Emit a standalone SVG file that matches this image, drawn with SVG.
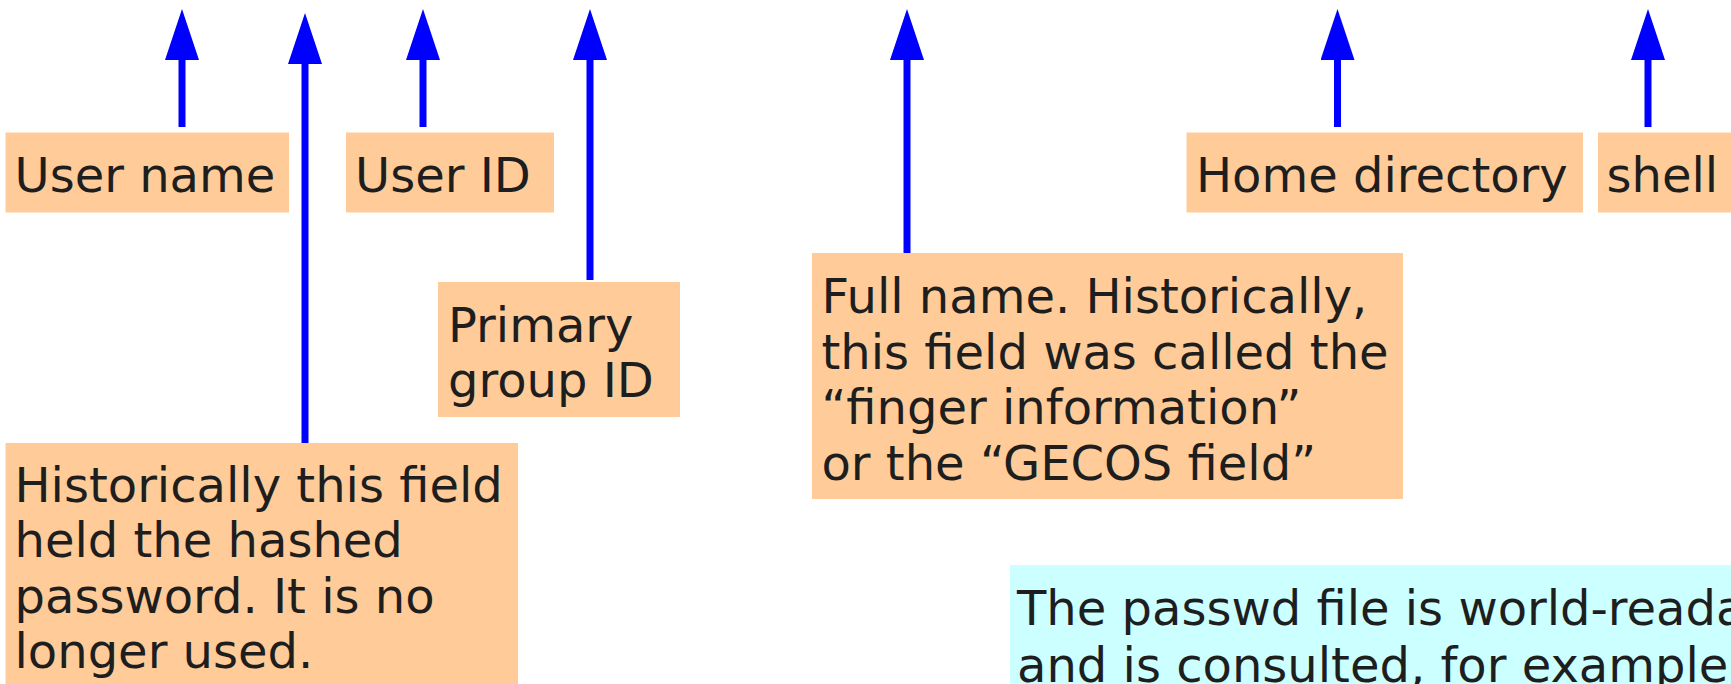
<svg xmlns="http://www.w3.org/2000/svg" width="1731" height="684" viewBox="0 0 1731 684">
<style>
.box{fill:#ffcc99}
.note{fill:#ccffff}
.t{font-family:"DejaVu Sans",sans-serif;font-size:48px;fill:#1e1e1e}
.c{stroke:#0000ff;stroke-width:7;fill:none}
</style>
<defs>
<marker id="ah" markerUnits="userSpaceOnUse" markerWidth="52" markerHeight="34" viewBox="0 0 52 34" refX="0" refY="17" orient="auto">
<path d="M0,0 L51,17 L0,34 z" fill="#0000ff"/>
</marker>
</defs>
<rect width="1731" height="684" fill="#ffffff"/>
<g id="connectors">
<line class="c" x1="182" y1="127" x2="182" y2="60" marker-end="url(#ah)"/>
<line class="c" x1="305" y1="443" x2="305" y2="64" marker-end="url(#ah)"/>
<line class="c" x1="423" y1="127" x2="423" y2="60" marker-end="url(#ah)"/>
<line class="c" x1="590" y1="280" x2="590" y2="60" marker-end="url(#ah)"/>
<line class="c" x1="907" y1="253" x2="907" y2="60" marker-end="url(#ah)"/>
<line class="c" x1="1337.5" y1="127" x2="1337.5" y2="60" marker-end="url(#ah)"/>
<line class="c" x1="1648" y1="127" x2="1648" y2="60" marker-end="url(#ah)"/>
</g>
<g id="userName">
<rect class="box" x="5.5" y="132.5" width="283.5" height="80"/>
<text class="t" x="14.5" y="192">User name</text>
</g>
<g id="userId">
<rect class="box" x="346" y="132.5" width="208" height="80"/>
<text class="t" x="355" y="192">User ID</text>
</g>
<g id="primaryGroup">
<rect class="box" x="438" y="282" width="242" height="135"/>
<text class="t" x="448" y="342">Primary</text>
<text class="t" x="448" y="397">group ID</text>
</g>
<g id="password">
<rect class="box" x="5.5" y="443" width="512.5" height="250"/>
<text class="t" x="14.5" y="502">Historically this field</text>
<text class="t" x="14.5" y="557">held the hashed</text>
<text class="t" x="14.5" y="612.5">password. It is no</text>
<text class="t" x="14.5" y="668">longer used.</text>
</g>
<g id="fullName">
<rect class="box" x="812" y="253" width="591" height="246"/>
<text class="t" x="821.5" y="313">Full name. Historically,</text>
<text class="t" x="821.5" y="368.5">this field was called the</text>
<text class="t" x="821.5" y="424">“finger information”</text>
<text class="t" x="821.5" y="480">or the “GECOS field”</text>
</g>
<g id="homeDirectory">
<rect class="box" x="1186.5" y="132.5" width="396.5" height="80"/>
<text class="t" x="1196" y="192">Home directory</text>
</g>
<g id="shell">
<rect class="box" x="1598" y="132.5" width="140" height="80"/>
<text class="t" x="1606.5" y="192">shell</text>
</g>
<g id="note">
<rect class="note" x="1010" y="565" width="730" height="130"/>
<text class="t" x="1017" y="625">The passwd file is world-readable</text>
<text class="t" x="1017" y="681.5">and is consulted, for example</text>
</g>
</svg>
